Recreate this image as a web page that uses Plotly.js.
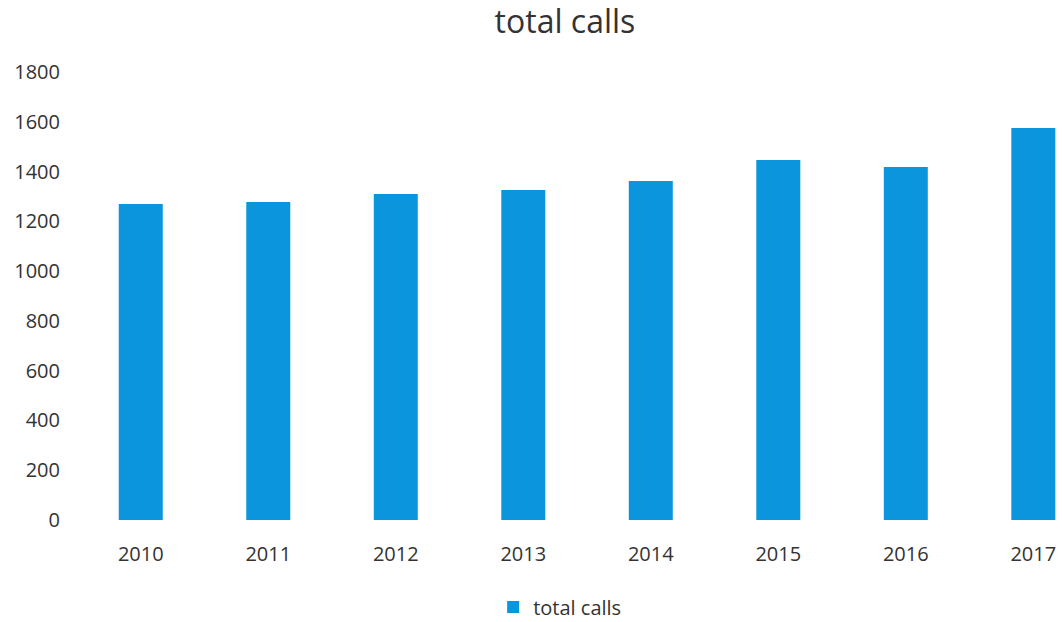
<!DOCTYPE html>
<html>
<head>
<meta charset="utf-8">
<script src="https://cdn.plot.ly/plotly-3.0.1.min.js"></script>
<style>html,body{margin:0;padding:0;background:#fff;}#chart{width:1062px;height:622px;}</style>
</head>
<body>
<div id="chart"></div>
<script>
const years = ['2010','2011','2012','2013','2014','2015','2016','2017'];
const totalCalls = [1270, 1278, 1310, 1326, 1362, 1446, 1418, 1575];
const yTicks = [0,200,400,600,800,1000,1200,1400,1600,1800];

const trace = {
  type: 'bar',
  x: years,
  y: totalCalls,
  name: 'total calls',
  marker: {color: '#0a95dc'},
  showlegend: true
};

const layout = {
  width: 1062, height: 622,
  margin: {l: 77, r: 0, t: 72, b: 102, autoexpand: false},
  paper_bgcolor: '#fff', plot_bgcolor: '#fff',
  font: {family: 'Open Sans, Lato, sans-serif', color: '#333', size: 20},
  title: {text: 'total calls', x: 0.532, xanchor: 'center', y: 0.965, yanchor: 'middle',
          font: {size: 32, color: '#333', family: 'Open Sans, Lato, sans-serif'}},
  bargap: 0.655,
  xaxis: {type: 'category', range: [-0.5, 7.225], showgrid: false, zeroline: false,
          showline: false, ticks: '', ticklabelstandoff: 20, tickfont: {size: 20},
          automargin: false},
  yaxis: {range: [0, 1800], tickvals: yTicks, ticktext: yTicks.map(String),
          showgrid: false, zeroline: false, showline: false, ticks: '',
          ticklabelstandoff: 16, tickfont: {size: 20}, automargin: false},
  legend: {orientation: 'h', x: 0.49, xanchor: 'center', y: -0.194, yanchor: 'middle',
           font: {size: 20}, itemwidth: 30}
};

Plotly.newPlot('chart', [trace], layout, {displayModeBar: false, staticPlot: true});
</script>
</body>
</html>
